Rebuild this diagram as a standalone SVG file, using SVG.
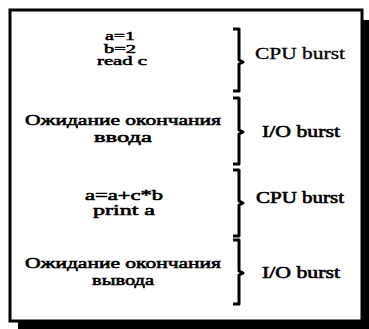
<svg xmlns="http://www.w3.org/2000/svg" width="369" height="329" viewBox="0 0 369 329">
<style>
text{font-family:'Liberation Serif','DejaVu Serif',serif;fill:#000;text-anchor:middle}
.t{font-size:15px;stroke:#000;stroke-width:0.6}
.s{font-size:12px;stroke:#000;stroke-width:0.5}
.l{font-size:16px;stroke:#000;stroke-width:0.3}
.lb{font-size:16px;stroke:#000;stroke-width:0.6}
.b{fill:none;stroke:#000;stroke-width:3;stroke-linejoin:round}
</style>
<rect width="369" height="329" fill="#fff"/>
<rect x="18" y="20" width="351" height="309" fill="#000"/>
<rect x="10" y="10" width="352" height="311" fill="#fff" stroke="#000" stroke-width="3"/>
<g id="cpu1">
<text class="s" x="120" y="40" textLength="30" lengthAdjust="spacingAndGlyphs">a=1</text>
<text class="s" x="120" y="52.5" textLength="32" lengthAdjust="spacingAndGlyphs">b=2</text>
<text class="s" x="122" y="65" textLength="50" lengthAdjust="spacingAndGlyphs">read c</text>
</g>
<g id="io1">
<text class="t" x="123" y="125" textLength="196" lengthAdjust="spacingAndGlyphs">Ожидание окончания</text>
<text class="t" x="123" y="142" textLength="58" lengthAdjust="spacingAndGlyphs">ввода</text>
</g>
<g id="cpu2">
<text class="t" x="124" y="200" textLength="78" lengthAdjust="spacingAndGlyphs">a=a+c*b</text>
<text class="t" x="124" y="215" textLength="62" lengthAdjust="spacingAndGlyphs">print a</text>
</g>
<g id="io2">
<text class="t" x="123" y="268" textLength="196" lengthAdjust="spacingAndGlyphs">Ожидание окончания</text>
<text class="t" x="123" y="285" textLength="62" lengthAdjust="spacingAndGlyphs">вывода</text>
</g>
<g id="braces">
<path class="b" d="M233,29 H239 V60 L243,62 L239,64 V91 H233"/>
<path class="b" d="M233,98 H239 V130 L243,132 L239,134 V164 H233"/>
<path class="b" d="M233,170 H239 V201 L243,203 L239,205 V236 H233"/>
<path class="b" d="M233,240 H239 V271 L243,273 L239,275 V304 H233"/>
</g>
<g id="labels">
<text class="l" x="300" y="59" textLength="90" lengthAdjust="spacingAndGlyphs">CPU burst</text>
<text class="lb" x="301" y="137" textLength="78" lengthAdjust="spacingAndGlyphs">I/O burst</text>
<text class="lb" x="300" y="203" textLength="88" lengthAdjust="spacingAndGlyphs">CPU burst</text>
<text class="lb" x="301" y="278" textLength="78" lengthAdjust="spacingAndGlyphs">I/O burst</text>
</g>
</svg>
